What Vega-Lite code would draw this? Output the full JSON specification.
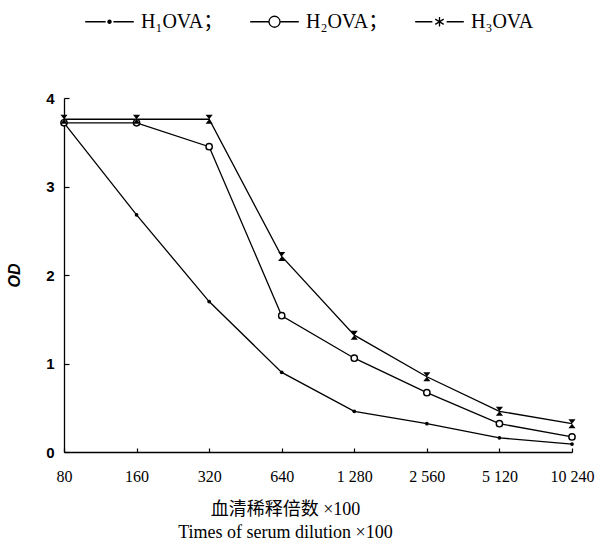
{
  "$schema": "https://vega.github.io/schema/vega-lite/v6.json",
  "width": 508,
  "height": 354,
  "autosize": {"type": "none"},
  "padding": {"left": 64, "top": 98, "right": 38, "bottom": 94},
  "background": "white",
  "config": {
    "view": {"stroke": null},
    "axis": {"domainColor": "black", "tickColor": "black", "labelColor": "black", "titleColor": "black", "grid": false, "domainWidth": 1.3, "tickWidth": 1.2}
  },
  "data": {
    "values": [
      {"s": "H1", "x": "80", "OD": 3.72},
      {"s": "H1", "x": "160", "OD": 2.68},
      {"s": "H1", "x": "320", "OD": 1.7},
      {"s": "H1", "x": "640", "OD": 0.9},
      {"s": "H1", "x": "1 280", "OD": 0.46},
      {"s": "H1", "x": "2 560", "OD": 0.32},
      {"s": "H1", "x": "5 120", "OD": 0.16},
      {"s": "H1", "x": "10 240", "OD": 0.09},
      {"s": "H2", "x": "80", "OD": 3.72},
      {"s": "H2", "x": "160", "OD": 3.72},
      {"s": "H2", "x": "320", "OD": 3.45},
      {"s": "H2", "x": "640", "OD": 1.54},
      {"s": "H2", "x": "1 280", "OD": 1.06},
      {"s": "H2", "x": "2 560", "OD": 0.67},
      {"s": "H2", "x": "5 120", "OD": 0.32},
      {"s": "H2", "x": "10 240", "OD": 0.17},
      {"s": "H3", "x": "80", "OD": 3.76},
      {"s": "H3", "x": "160", "OD": 3.76},
      {"s": "H3", "x": "320", "OD": 3.76},
      {"s": "H3", "x": "640", "OD": 2.21},
      {"s": "H3", "x": "1 280", "OD": 1.32},
      {"s": "H3", "x": "2 560", "OD": 0.85},
      {"s": "H3", "x": "5 120", "OD": 0.46},
      {"s": "H3", "x": "10 240", "OD": 0.32}
    ]
  },
  "encoding": {
    "x": {
      "field": "x", "type": "ordinal",
      "sort": ["80", "160", "320", "640", "1 280", "2 560", "5 120", "10 240"],
      "scale": {"type": "point", "padding": 0},
      "axis": {
        "labelAngle": 0, "tickSize": -4, "labelPadding": 20,
        "labelFont": "Liberation Serif", "labelFontSize": 16,
        "title": ["血清稀释倍数  ×100", "Times of serum dilution ×100"],
        "titleFont": "Liberation Serif, Noto Sans CJK SC", "titleFontSize": 18, "titleFontWeight": "normal",
        "titleLineHeight": 23, "titlePadding": 16, "titleX": 221
      }
    },
    "y": {
      "field": "OD", "type": "quantitative",
      "scale": {"domain": [0, 4], "nice": false},
      "axis": {
        "values": [0, 1, 2, 3, 4], "tickSize": -5, "labelPadding": 15,
        "labelFont": "Liberation Sans", "labelFontSize": 15, "labelFontWeight": "bold",
        "title": "OD", "titleFont": "Liberation Sans", "titleFontSize": 16, "titleFontStyle": "italic", "titleFontWeight": "bold",
        "titlePadding": 23
      }
    }
  },
  "layer": [
    {
      "mark": {"type": "line", "color": "black", "strokeWidth": 1.3},
      "encoding": {"detail": {"field": "s"}}
    },
    {
      "transform": [{"filter": "datum.s === 'H1'"}],
      "mark": {"type": "point", "shape": "circle", "filled": true, "color": "black", "size": 14, "opacity": 1}
    },
    {
      "transform": [{"filter": "datum.s === 'H2'"}],
      "mark": {"type": "point", "shape": "circle", "filled": false, "color": "black", "fill": "white", "size": 40, "strokeWidth": 1.4, "opacity": 1}
    },
    {
      "transform": [{"filter": "datum.s === 'H3'"}],
      "mark": {"type": "point", "shape": "M-0.8,-1H0.8L-0.8,1H0.8Z", "filled": true, "color": "black", "size": 80, "opacity": 1}
    },
    {
      "transform": [{"filter": "datum.OD > 100"}],
      "mark": {"type": "point", "filled": false, "color": "black", "strokeWidth": 1.3, "opacity": 1},
      "encoding": {
        "shape": {
          "field": "s", "type": "nominal",
          "scale": {
            "domain": ["H1", "H2", "H3"],
            "range": [
              "M-0.75,0H-0.12M0.12,0H0.75M0.05,0A0.05,0.05 0 1,1 -0.05,0A0.05,0.05 0 1,1 0.05,0M0.025,0A0.025,0.025 0 1,1 -0.025,0A0.025,0.025 0 1,1 0.025,0",
              "M-0.75,0H-0.17M0.17,0H0.75M0.17,0A0.17,0.17 0 1,1 -0.17,0A0.17,0.17 0 1,1 0.17,0",
              "M-0.75,0H-0.22M0.22,0H0.75M0,-0.15V0.15M-0.13,-0.08L0.13,0.08M-0.13,0.08L0.13,-0.08"
            ]
          },
          "legend": {
            "title": null, "orient": "none", "direction": "horizontal",
            "legendX": 12, "legendY": -110,
            "symbolSize": 4200, "symbolStrokeWidth": 1.3, "symbolStrokeColor": "black",
            "labelExpr": "datum.label === 'H1' ? 'H₁OVA；' : datum.label === 'H2' ? 'H₂OVA；' : 'H₃OVA'",
            "labelFont": "Liberation Serif, Noto Sans CJK SC", "labelFontSize": 20, "labelColor": "black",
            "labelOffset": -2, "columnPadding": 17
          }
        }
      }
    }
  ]
}
